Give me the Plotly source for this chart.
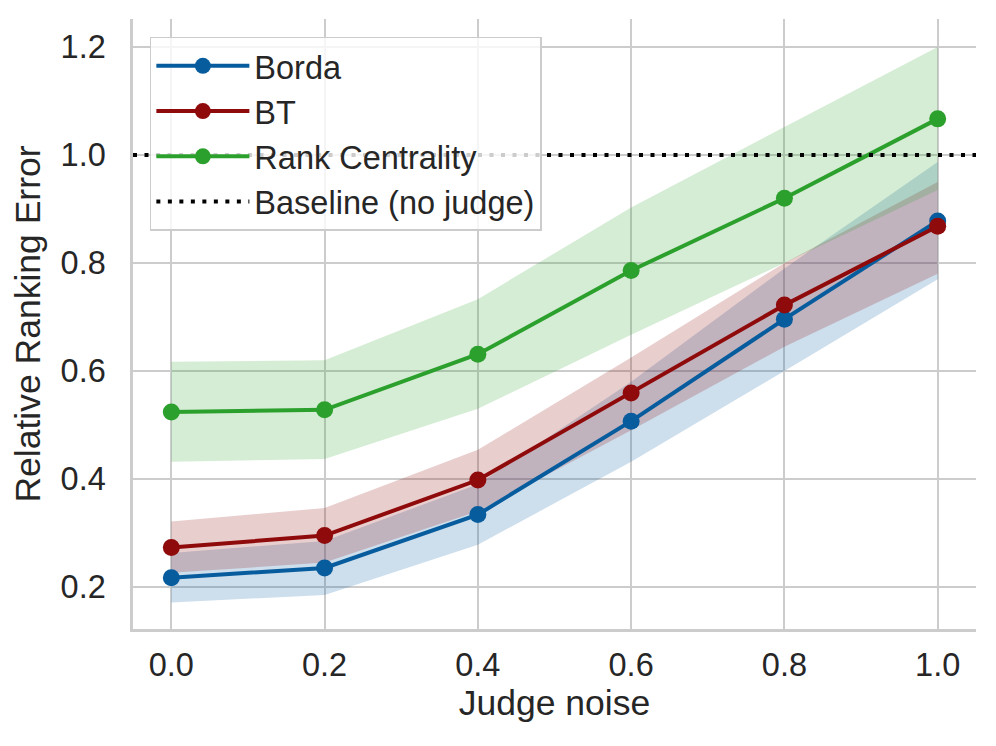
import plotly.graph_objects as go

noise = [0.0, 0.2, 0.4, 0.6, 0.8, 1.0]

borda_mean = [0.217, 0.235, 0.334, 0.507, 0.696, 0.878]
borda_lo = [0.171, 0.185, 0.278, 0.432, 0.600, 0.770]
borda_hi = [0.263, 0.285, 0.390, 0.580, 0.790, 0.987]

bt_mean = [0.273, 0.295, 0.398, 0.559, 0.722, 0.868]
bt_lo = [0.226, 0.245, 0.340, 0.490, 0.645, 0.780]
bt_hi = [0.321, 0.346, 0.454, 0.625, 0.800, 0.950]

rc_mean = [0.524, 0.528, 0.631, 0.786, 0.920, 1.067]
rc_lo = [0.432, 0.437, 0.530, 0.667, 0.800, 0.935]
rc_hi = [0.617, 0.620, 0.733, 0.903, 1.052, 1.200]

baseline = 1.0

names = ["Borda", "BT", "Rank Centrality"]
colors = ["#075c9e", "#8f0b0b", "#2ca02c"]
fills = ["rgba(7,92,158,0.2)", "rgba(143,11,11,0.2)", "rgba(44,160,44,0.2)"]
series = [(borda_mean, borda_lo, borda_hi), (bt_mean, bt_lo, bt_hi), (rc_mean, rc_lo, rc_hi)]

FONT = "Liberation Sans, Arial, sans-serif"
TXT = "#262626"

fig = go.Figure()
# shaded bands first
for fc, (m, lo, hi) in zip(fills, series):
    fig.add_trace(go.Scatter(
        x=noise + noise[::-1], y=hi + lo[::-1], fill="toself", fillcolor=fc,
        line=dict(width=0, color=fc), mode="lines", showlegend=False, hoverinfo="skip"))
# mean lines on top
for name, col, (m, lo, hi) in zip(names, colors, series):
    fig.add_trace(go.Scatter(
        x=noise, y=m, mode="lines+markers", name=name, legendgroup=name,
        line=dict(color=col, width=4), marker=dict(color=col, size=17)))

fig.add_trace(go.Scatter(
    x=[-0.05, 1.05], y=[baseline, baseline], mode="lines", name="Baseline (no judge)",
    legendgroup="base", line=dict(color="black", width=4, dash="4px,7.5px"), hoverinfo="skip"))

axis_common = dict(
    showgrid=True, gridcolor="#cccccc", gridwidth=2,
    showline=True, linecolor="#cccccc", linewidth=2.5,
    zeroline=False, ticks="outside", tickcolor="rgba(0,0,0,0)",
    tickfont=dict(family=FONT, size=32.5, color=TXT), automargin=False,
)

fig.update_layout(
    width=996, height=746,
    margin=dict(l=125, r=28, t=11, b=125),
    paper_bgcolor="white", plot_bgcolor="white",
    font=dict(family=FONT, color=TXT),
    showlegend=True,
    legend=dict(
        x=0.02, y=0.971, xanchor="left", yanchor="top",
        bgcolor="rgba(255,255,255,0.8)", bordercolor="#cccccc", borderwidth=1.5,
        font=dict(family=FONT, size=32.5, color=TXT),
        tracegroupgap=0, itemwidth=93,
    ),
)
fig.update_xaxes(
    range=[-0.05, 1.05], tickvals=noise, ticktext=["0.0", "0.2", "0.4", "0.6", "0.8", "1.0"],
    ticklen=5, title=dict(text="Judge noise", font=dict(family=FONT, size=35.5, color=TXT), standoff=4),
    **axis_common)
fig.update_yaxes(
    range=[0.122, 1.252], tickvals=[0.2, 0.4, 0.6, 0.8, 1.0, 1.2],
    ticktext=["0.2", "0.4", "0.6", "0.8", "1.0", "1.2"],
    ticklen=18, title=dict(text="Relative Ranking Error", font=dict(family=FONT, size=35.5, color=TXT), standoff=10),
    **axis_common)

fig.write_html("out.html")
